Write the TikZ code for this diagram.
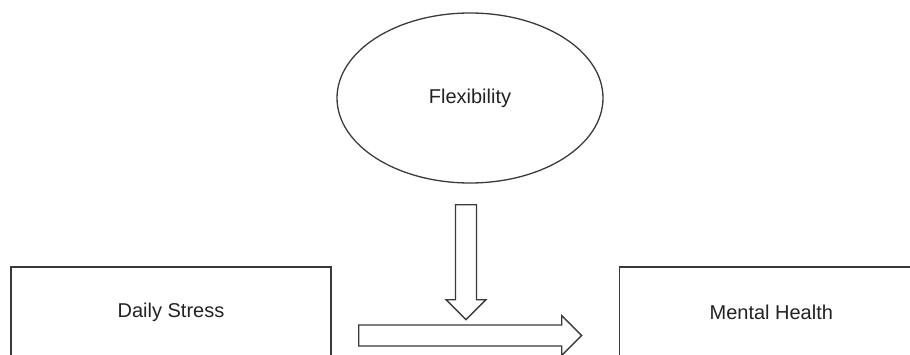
\documentclass[tikz,border=0pt]{standalone}
\usepackage{fontspec}
\setmainfont{Liberation Sans}
\usepackage{tikz}
\usetikzlibrary{positioning}
\usetikzlibrary{shapes.geometric}
\usetikzlibrary{shapes.arrows}
\definecolor{lineg}{HTML}{3A3A3A}
\definecolor{textg}{HTML}{222222}
\tikzset{%
  myvar/.style={rectangle, draw=lineg, line width=0.65pt, minimum width=160pt, minimum height=45pt, inner sep=0pt, text=textg, font=\fontsize{10}{12}\selectfont},
  mymod/.style={ellipse, draw=lineg, line width=0.65pt, minimum width=133pt, minimum height=85pt, inner sep=0pt, text=textg, font=\fontsize{10}{12}\selectfont},
  blockarrow/.style={single arrow, draw=lineg, line width=0.65pt, inner xsep=0pt, inner ysep=4.9pt, single arrow head extend=4.75pt, single arrow tip angle=90, anchor=tail}
}

\begin{document}
\begin{tikzpicture}[x=0.5pt, y=0.5pt]
  \path[use as bounding box, clip] (0,0) rectangle (910,354);

  \node[myvar] (stress) at (171,42) {Daily Stress};
  \node[myvar, minimum width=152pt, right=143.5pt of stress] (health) {Mental Health};
  \node[mymod] (flex) at (470,256) {Flexibility};

  \node[blockarrow, minimum height=111.5pt] (effect) at (358,18.5) {};
  \node[blockarrow, minimum height=57.5pt, rotate=-90] (moderate) at (466,150) {};
\end{tikzpicture}
\end{document}
